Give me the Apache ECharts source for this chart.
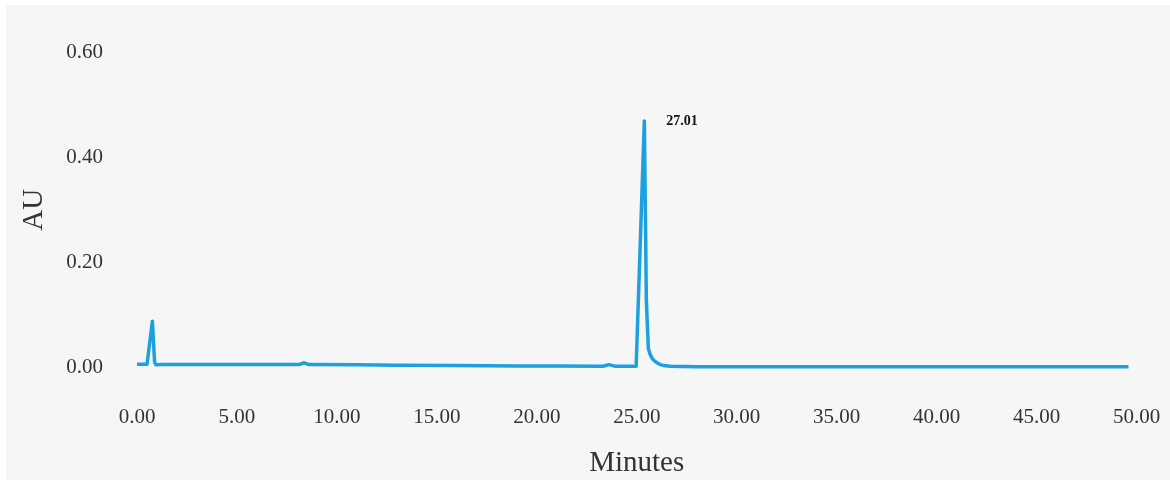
<!DOCTYPE html>
<html>
<head>
<meta charset="utf-8">
<script src="https://cdn.jsdelivr.net/npm/echarts@6/dist/echarts.min.js"></script>
<style>
html,body{margin:0;padding:0;background:#ffffff;}
#chart{width:1170px;height:483px;}
</style>
</head>
<body>
<div id="chart"></div>
<script>
// Retention time (minutes)
var timeMin = [0, 0.5, 0.6, 0.77, 0.88, 0.95, 1.2, 4, 8.1, 8.36, 8.6, 11, 13, 16, 19, 21, 23.3, 23.62, 23.9, 24.97, 25.38, 25.48, 25.58, 25.68, 25.78, 25.9, 26.03, 26.18, 26.33, 26.68, 28, 35, 42, 49.6];
// Absorbance (AU)
var absorbance = [0.006, 0.006, 0.008, 0.088, 0.01, 0.005, 0.0058, 0.0057, 0.0056, 0.009, 0.0055, 0.005, 0.0045, 0.004, 0.003, 0.0028, 0.0025, 0.0055, 0.0025, 0.0025, 0.469, 0.128, 0.036, 0.024, 0.017, 0.012, 0.0085, 0.0055, 0.004, 0.0022, 0.0015, 0.0012, 0.0012, 0.0012];
// Peak annotations
var peakTimes = [25.38];
var peakValues = [0.469];
var peakTexts = ['27.01'];
var xTicks = [0, 50, 5];
var yTicks = [0, 0.6, 0.2];

var seriesData = timeMin.map(function (t, i) { return [t, absorbance[i]]; });
var markData = peakTimes.map(function (t, i) {
  return { coord: [t, peakValues[i]], value: peakTexts[i] };
});

var serif = '"Liberation Serif", "Times New Roman", serif';
var chart = echarts.init(document.getElementById('chart'), null, { renderer: 'canvas' });
chart.setOption({
  animation: false,
  backgroundColor: '#ffffff',
  graphic: [{
    type: 'rect', z: -10, silent: true,
    shape: { x: 6, y: 5, width: 1164, height: 475 },
    style: { fill: '#f6f6f6' }
  }],
  grid: { left: 137, right: 33.5, top: 52, bottom: 115.5, containLabel: false },
  xAxis: {
    type: 'value', min: xTicks[0], max: xTicks[1], interval: xTicks[2],
    name: 'Minutes', nameLocation: 'middle', nameGap: 81,
    nameTextStyle: { fontFamily: serif, fontSize: 29, color: '#333333' },
    axisLine: { show: false }, axisTick: { show: false }, splitLine: { show: false },
    axisLabel: { fontFamily: serif, fontSize: 21, color: '#333333', margin: 39,
      formatter: function (v) { return v.toFixed(2); } }
  },
  yAxis: {
    type: 'value', min: yTicks[0], max: yTicks[1], interval: yTicks[2],
    name: 'AU', nameLocation: 'middle', nameGap: 88,
    nameTextStyle: { fontFamily: serif, fontSize: 29, color: '#333333' },
    axisLine: { show: false }, axisTick: { show: false }, splitLine: { show: false },
    axisLabel: { fontFamily: serif, fontSize: 21, color: '#333333', margin: 34,
      formatter: function (v) { return v.toFixed(2); } }
  },
  series: [{
    type: 'line',
    data: seriesData,
    showSymbol: false,
    symbol: 'none',
    lineStyle: { color: '#1ba1e0', width: 3.5, join: 'round' },
    itemStyle: { color: '#1ba1e0' },
    markPoint: {
      symbol: 'circle', symbolSize: 0,
      data: markData,
      label: { show: true, position: 'right', offset: [17, 1], formatter: '{c}',
        fontFamily: serif, fontSize: 14, fontWeight: 'bold', color: '#111111' }
    }
  }]
});
</script>
</body>
</html>
